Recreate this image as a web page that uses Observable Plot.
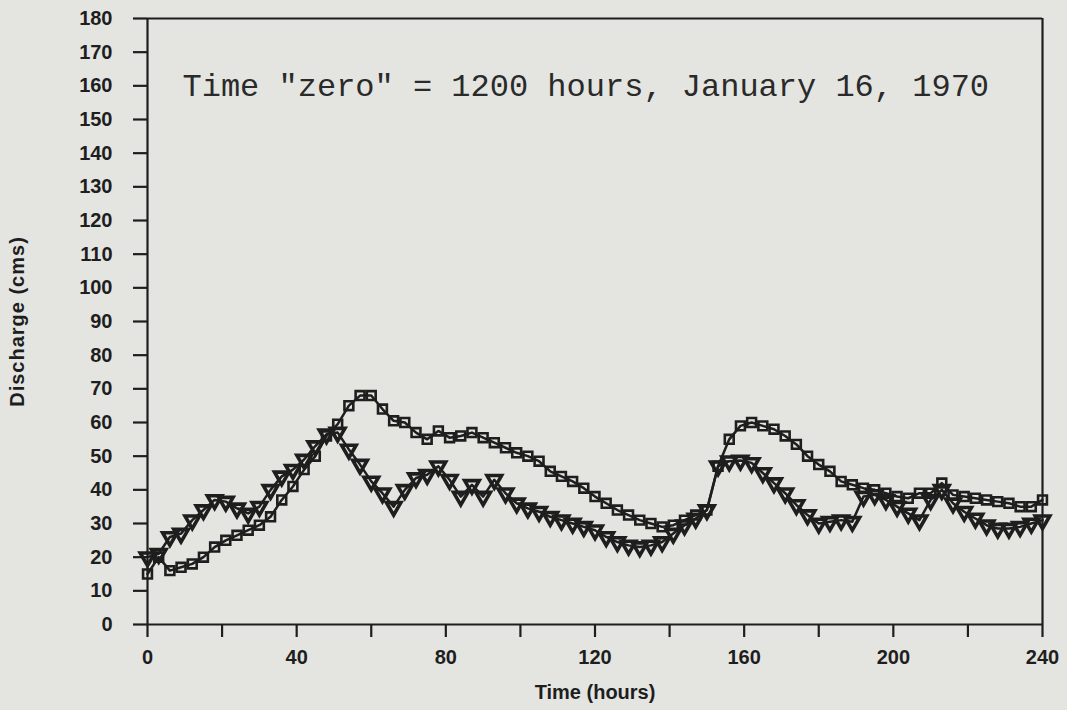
<!DOCTYPE html>
<html>
<head>
<meta charset="utf-8">
<script src="https://cdn.jsdelivr.net/npm/d3@7"></script>
<script src="https://cdn.jsdelivr.net/npm/@observablehq/plot@0.6"></script>
<style>
  html, body { margin: 0; padding: 0; background: #e4e5e1; }
  #chart svg { display: block; background: #e4e5e1; }
</style>
</head>
<body>
<div id="chart"></div>
<script>
// Time in hours since "zero"
const hours = d3.range(0, 241, 3);

// Square-marker series (discharge, cms)
const squareValues = [
  15, 20, 16, 17, 18, 20, 23, 25, 26.5, 28, 29.5, 32, 37, 41, 46, 50,
  56, 59.5, 65, 68, 68, 64, 60.5, 60, 57, 55, 57.5, 55.5, 56, 57, 55.5, 54,
  52.5, 51, 50, 48.5, 45.5, 44, 42.5, 40.5, 38, 36, 34, 32.5, 31, 30, 29, 29.5,
  31, 32.5, 34, 47, 55, 59, 60, 59, 58, 56, 53.5, 50, 47.5, 45.5, 42.5, 41.5,
  40.5, 40, 39, 38, 37.5, 39, 39, 42, 38.5, 38, 37.5, 37, 36.5, 36, 35, 35, 37
];

// Triangle-marker series (discharge, cms)
const triangleValues = [
  20, 21, 26, 27, 31, 34, 37, 36.5, 34.5, 33, 35, 40, 44, 46, 49, 53,
  56.5, 57, 52, 47.5, 42.5, 39, 35, 40, 43.5, 44.5, 47, 43, 38, 41.5, 38, 43,
  39, 36, 34.5, 33.5, 32, 31, 30, 29, 28, 26, 24.5, 23.5, 23, 23.5, 24.5, 27,
  29.5, 31.5, 34, 47, 48.5, 48.7, 48, 45, 42, 39, 35.5, 32.5, 30, 30.5, 31, 30.5,
  38, 38.5, 37, 35, 33, 31, 37, 40, 36, 33.5, 31.5, 29.5, 28.5, 28.5, 29, 30, 31
];

const yTicks = d3.range(0, 181, 10);
const xTicks = d3.range(0, 241, 20);
const xLabelTicks = d3.range(0, 241, 40);

const note = 'Time "zero" = 1200 hours, January 16, 1970';
const xTitle = "Time (hours)";
const yTitle = "Discharge (cms)";

const squares = hours.map((t, i) => ({t, v: squareValues[i]}));
const triangles = hours.map((t, i) => ({t, v: triangleValues[i]}));

const ink = "#1e1e1e";
const labelFont = "Liberation Sans";

const chart = Plot.plot({
  width: 1067,
  height: 710,
  marginLeft: 147,
  marginRight: 25,
  marginTop: 18,
  marginBottom: 86,
  style: {background: "#e4e5e1", color: ink},
  x: {domain: [0, 240]},
  y: {domain: [0, 180]},
  marks: [
    Plot.axisY({
      ticks: yTicks, tickSize: 14, tickPadding: 21, strokeWidth: 2.2,
      label: null, fontSize: 20, fontWeight: "bold", fontFamily: labelFont, fill: ink
    }),
    Plot.axisX({
      ticks: xTicks, tickSize: 13, tickPadding: 12, strokeWidth: 2.2,
      tickFormat: d => xLabelTicks.includes(d) ? String(d) : "",
      label: null, fontSize: 20, fontWeight: "bold", fontFamily: labelFont, fill: ink
    }),
    Plot.ruleY([0, 180], {stroke: ink, strokeWidth: 2.2}),
    Plot.ruleX([0, 240], {stroke: ink, strokeWidth: 2.2}),
    Plot.line(squares, {x: "t", y: "v", stroke: ink, strokeWidth: 2.5}),
    Plot.line(triangles, {x: "t", y: "v", stroke: ink, strokeWidth: 2.5}),
    Plot.dot(squares, {x: "t", y: "v", symbol: "square", r: 5, fill: "none", stroke: ink, strokeWidth: 2.6}),
    Plot.dot(triangles, {x: "t", y: "v", symbol: "triangle", rotate: 180, r: 5.4, fill: "none", stroke: ink, strokeWidth: 3.6}),
    Plot.text([note], {
      frameAnchor: "top-left", dx: 35, dy: 55, textAnchor: "start",
      fontFamily: "Liberation Mono", fontSize: 32, fill: "#2a2a2a"
    }),
    Plot.text([xTitle], {
      frameAnchor: "bottom", dy: 74, textAnchor: "middle", fontFamily: labelFont, fontWeight: "bold",
      fontSize: 20, fill: ink
    }),
    Plot.text([yTitle], {
      frameAnchor: "left", dx: -130, rotate: -90, textAnchor: "middle", fontFamily: labelFont, fontWeight: "bold",
      fontSize: 20, fill: ink
    })
  ]
});

d3.select(chart).selectAll("text")
  .filter(function() { return this.textContent === yTitle; })
  .attr("letter-spacing", "1");

document.getElementById("chart").appendChild(chart);
</script>
</body>
</html>
